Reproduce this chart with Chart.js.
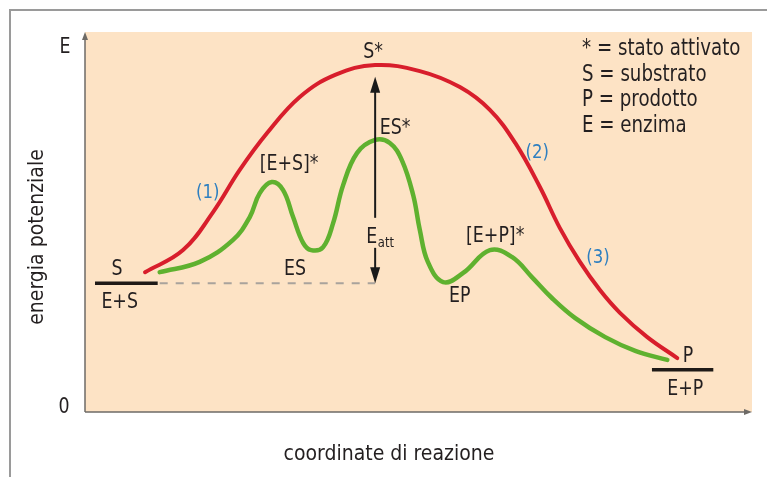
<!DOCTYPE html>
<html><head><meta charset="utf-8">
<script src="https://cdn.jsdelivr.net/npm/chart.js@4/dist/chart.umd.min.js"></script>
<style>html,body{margin:0;padding:0;background:#fff;}canvas{display:block;}</style>
</head><body>
<canvas id="c" width="767" height="477"></canvas>
<script>
// Reaction coordinate (0-100) and potential energy (0-100)
const redX   = [9.0, 14.7, 19.2, 23.2, 27.3, 32.2, 37.5, 43.5, 50.2, 56.2, 60.7, 64.5, 68.2, 71.2, 74.2, 77.2, 80.2, 84.3, 88.8];
const redY   = [36.8, 42.6, 52.6, 63.7, 73.4, 82.9, 88.7, 91.3, 89.7, 85.5, 79.5, 70.8, 59.2, 48.4, 39.5, 32.1, 26.1, 19.7, 14.2];
const greenX = [11.2, 17.2, 22.2, 24.7, 26.2, 28.0, 29.7, 31.2, 32.7, 33.9, 35.7, 37.2, 38.7, 40.8, 43.5, 45.7, 47.5, 49.2, 50.2, 51.4, 53.7, 56.7, 60.7, 64.0, 67.0, 70.0, 73.5, 78.0, 82.5, 87.3];
const greenY = [36.8, 39.5, 45.3, 51.3, 57.6, 60.5, 58.4, 51.3, 44.5, 42.6, 43.4, 49.7, 59.7, 68.2, 71.6, 70.8, 66.3, 57.1, 47.9, 39.5, 34.2, 36.6, 42.6, 40.8, 35.5, 30.0, 24.7, 19.7, 16.1, 13.7];
const levelES = { x: [1.5, 10.9], y: 33.9 };
const levelEP = { x: [85.0, 94.2], y: 11.1 };
const dashedX = [11.2, 43.5];
const eattX = 43.5;
const eattFrom = 33.9, eattTo = 88.2;
const stateLabels = ["S", "E+S", "P", "E+P", "S*", "ES*", "[E+S]*", "ES", "EP", "[E+P]*"];
const stateLabelX = [4.8, 5.2, 90.4, 90.0, 43.2, 46.5, 30.6, 31.5, 56.2, 61.5];
const stateLabelY = [37.6, 28.7, 14.5, 5.8, 94.7, 74.7, 65.0, 37.4, 30.3, 46.1];
const stepLabels = ["(1)", "(2)", "(3)"];
const stepLabelX = [18.4, 67.8, 76.9];
const stepLabelY = [57.6, 68.2, 40.5];
const legendLines = ["* = stato attivato", "S = substrato", "P = prodotto", "E = enzima"];
const yAxisTitle = "energia potenziale";
const xAxisTitle = "coordinate di reazione";

const FONT = '"DejaVu Sans Condensed", "Liberation Sans Narrow", "Open Sans", sans-serif';
const TEXT = '#231f20';
const RED = '#d81e2c', GREEN = '#5fb12f', BLUE = '#2e7fc0', PEACH = '#fde3c5';

const pts = (xs, ys) => xs.map((x, i) => ({ x, y: Array.isArray(ys) ? ys[i] : ys }));

function arrowHead(ctx, x, y, dir, len, half, color) {
  ctx.save(); ctx.fillStyle = color; ctx.beginPath();
  if (dir === 'up') { ctx.moveTo(x, y); ctx.lineTo(x - half, y + len); ctx.lineTo(x + half, y + len); }
  else if (dir === 'down') { ctx.moveTo(x, y); ctx.lineTo(x - half, y - len); ctx.lineTo(x + half, y - len); }
  else { ctx.moveTo(x, y); ctx.lineTo(x - len, y - half); ctx.lineTo(x - len, y + half); }
  ctx.closePath(); ctx.fill(); ctx.restore();
}

function txt(ctx, t, x, y, size, sx, align, rot) {
  ctx.save();
  ctx.translate(x, y);
  if (rot) ctx.rotate(rot);
  ctx.scale(sx, 1);
  ctx.font = size + 'px ' + FONT;
  ctx.textAlign = align || 'center';
  ctx.textBaseline = 'middle';
  ctx.fillText(t, 0, 0);
  ctx.restore();
}

const decor = {
  id: 'decor',
  beforeDraw(chart) {
    const { ctx, chartArea: a } = chart;
    ctx.save();
    ctx.fillStyle = '#fff'; ctx.fillRect(0, 0, chart.width, chart.height);
    ctx.strokeStyle = '#9a9a9a'; ctx.lineWidth = 2;
    ctx.beginPath(); ctx.moveTo(10, 477); ctx.lineTo(10, 10); ctx.lineTo(767, 10); ctx.stroke();
    ctx.fillStyle = PEACH; ctx.fillRect(a.left, a.top, a.right - a.left, a.bottom - a.top);
    ctx.strokeStyle = '#6d6a66'; ctx.lineWidth = 1.5;
    ctx.beginPath(); ctx.moveTo(a.left, a.bottom); ctx.lineTo(a.left, a.top + 6); ctx.stroke();
    ctx.beginPath(); ctx.moveTo(a.left, a.bottom); ctx.lineTo(a.right - 6, a.bottom); ctx.stroke();
    arrowHead(ctx, a.left, a.top, 'up', 8, 3, '#6d6a66');
    arrowHead(ctx, a.right, a.bottom, 'right', 8, 3, '#6d6a66');
    ctx.restore();
  },
  afterDatasetsDraw(chart) {
    const { ctx, scales: { x, y } } = chart;
    ctx.save();
    const ax = x.getPixelForValue(eattX);
    const yTop = y.getPixelForValue(eattTo), yBot = y.getPixelForValue(eattFrom);
    const gapTop = y.getPixelForValue(51.1), gapBot = y.getPixelForValue(43.2);
    ctx.strokeStyle = '#1a1a1a'; ctx.lineWidth = 2;
    ctx.beginPath(); ctx.moveTo(ax, yTop + 12); ctx.lineTo(ax, gapTop); ctx.stroke();
    ctx.beginPath(); ctx.moveTo(ax, gapBot); ctx.lineTo(ax, yBot - 12); ctx.stroke();
    arrowHead(ctx, ax, yTop, 'up', 16, 5, '#1a1a1a');
    arrowHead(ctx, ax, yBot, 'down', 16, 5, '#1a1a1a');
    ctx.fillStyle = TEXT;
    stateLabels.forEach((t, i) => txt(ctx, t, x.getPixelForValue(stateLabelX[i]), y.getPixelForValue(stateLabelY[i]), 21, 0.92));
    const ex = x.getPixelForValue(43.0), ey = y.getPixelForValue(45.8);
    txt(ctx, 'E', ex, ey, 21, 0.92);
    txt(ctx, 'att', ex + 6, ey + 5, 14, 0.92, 'left');
    ctx.fillStyle = BLUE;
    stepLabels.forEach((t, i) => txt(ctx, t, x.getPixelForValue(stepLabelX[i]), y.getPixelForValue(stepLabelY[i]), 20, 0.92));
    ctx.fillStyle = TEXT;
    legendLines.forEach((t, i) => txt(ctx, t, 582, 49 + i * 25.6, 23, 0.88, 'left'));
    txt(ctx, 'E', 65, 48, 21, 0.92);
    txt(ctx, '0', 64, 408, 21, 0.92);
    txt(ctx, xAxisTitle, 389, 455, 21, 1);
    txt(ctx, yAxisTitle, 38, 237, 21, 1, 'center', -Math.PI / 2);
    ctx.restore();
  }
};

new Chart(document.getElementById('c'), {
  type: 'line',
  data: {
    datasets: [
      { data: pts(dashedX, levelES.y), borderColor: '#a9a39c', borderWidth: 2, borderDash: [8, 8], pointRadius: 0 },
      { data: pts(levelES.x, levelES.y), borderColor: '#1f1a17', borderWidth: 3.5, pointRadius: 0 },
      { data: pts(levelEP.x, levelEP.y), borderColor: '#1f1a17', borderWidth: 3.5, pointRadius: 0 },
      { data: pts(greenX, greenY), borderColor: GREEN, borderWidth: 4.5, pointRadius: 0, tension: 0.4, borderCapStyle: 'round' },
      { data: pts(redX, redY), borderColor: RED, borderWidth: 4, pointRadius: 0, tension: 0.4, borderCapStyle: 'round' }
    ]
  },
  options: {
    responsive: false, animation: false, devicePixelRatio: 1,
    layout: { padding: { left: 85, right: 15, top: 32, bottom: 65 } },
    plugins: { legend: { display: false }, tooltip: { enabled: false } },
    scales: {
      x: { type: 'linear', min: 0, max: 100, display: false },
      y: { type: 'linear', min: 0, max: 100, display: false }
    }
  },
  plugins: [decor]
});
</script>
</body></html>
